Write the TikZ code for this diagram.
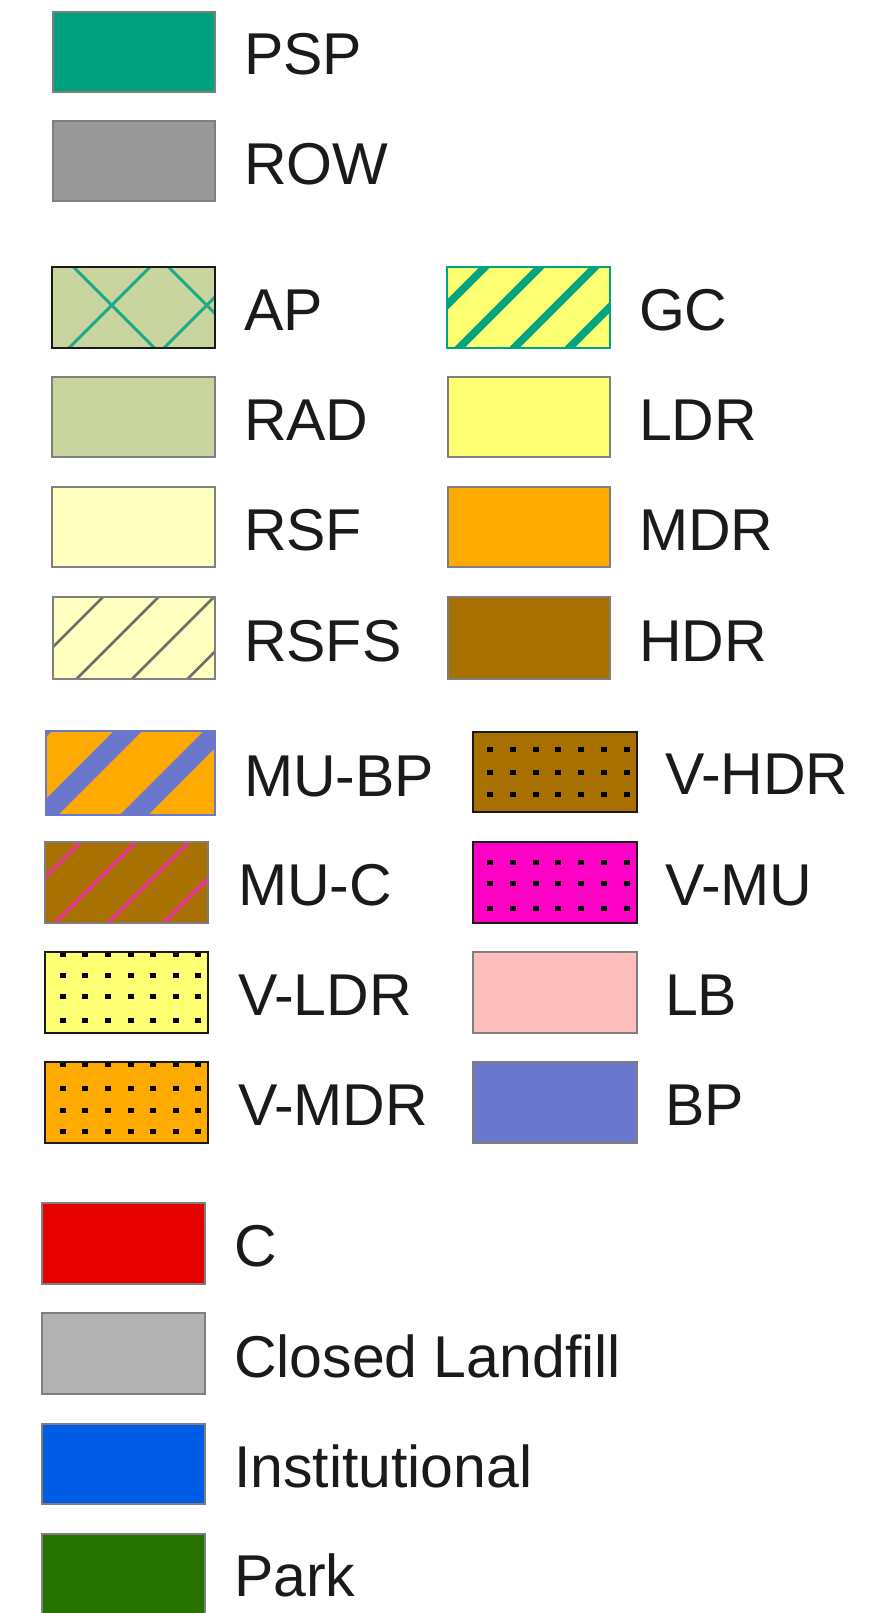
\documentclass[tikz,border=0pt]{standalone}
\usepackage{fontspec}
\setmainfont{Liberation Sans}
\definecolor{pspcol}{HTML}{00A17E}
\definecolor{rowcol}{HTML}{999999}
\definecolor{radcol}{HTML}{C9D59F}
\definecolor{aphatch}{HTML}{1EAA87}
\definecolor{rsfcol}{HTML}{FFFFBF}
\definecolor{hatchgray}{HTML}{6E6E6E}
\definecolor{ldrcol}{HTML}{FFFF73}
\definecolor{gccol}{HTML}{00A57F}
\definecolor{mdrcol}{HTML}{FFAA00}
\definecolor{hdrcol}{HTML}{A87000}
\definecolor{bpcol}{HTML}{6B77CC}
\definecolor{mucpink}{HTML}{E8359A}
\definecolor{vmucol}{HTML}{FF00C5}
\definecolor{lbcol}{HTML}{FFBEBE}
\definecolor{ccol}{HTML}{E60000}
\definecolor{landcol}{HTML}{B2B2B2}
\definecolor{instcol}{HTML}{005CE6}
\definecolor{parkcol}{HTML}{267300}
\definecolor{bordergray}{HTML}{7F7F7F}
\definecolor{borderdark}{HTML}{1A1A1A}
\definecolor{labcol}{HTML}{1A1A1A}
\tikzset{
  swatchbox/.style={draw=bordergray,line width=2pt,inner sep=0pt,outer sep=0pt,rectangle},
  darkedge/.style={draw=borderdark},
  lab/.style={anchor=base west,inner sep=0pt,outer sep=0pt,text=labcol,font=\fontsize{59}{70}\selectfont}
}
\newcommand\swatch[6]{\node[swatchbox,minimum width={#4pt-#2pt},minimum height={#5pt-#3pt},#6] (#1) at ({(#2+#4)/2},{(#3+#5)/2}) {};}
\newcommand\patterned[3]{\begin{scope}\clip (#1.south west) rectangle (#1.north east); #2 \end{scope}\draw[line width=2pt,#3] (#1.south west) rectangle (#1.north east);}
\newcommand\uplines[4]{\foreach \cc in {#1}{\draw[#4] ({\cc-#2+20},{#2-20}) -- ({\cc-#3-20},{#3+20});}}
\newcommand\downlines[4]{\foreach \cc in {#1}{\draw[#4] ({\cc+#2-20},{#2-20}) -- ({\cc+#3+20},{#3+20});}}
\newcommand\dotgrid[2]{\foreach \xx in {#1}{\foreach \yy in {#2}{\fill[black] ({\xx-3},{\yy-2.5}) rectangle ({\xx+3},{\yy+2.5});}}}
\begin{document}
\begin{tikzpicture}[x=1pt,y=-1pt]
\useasboundingbox (0,0) rectangle (886,1613);
\begin{scope}
\clip (0,0) rectangle (886,1613);
% group 1
\swatch{psp}{52.5}{12}{215}{92}{fill=pspcol}
\node[lab] (psp-l) at (244,75) {PSP};
\swatch{row}{52.5}{121.5}{215}{201.5}{fill=rowcol}
\node[lab] (row-l) at (244,184.5) {ROW};
% group 2
\swatch{ap}{52}{266.7}{215}{347.7}{fill=radcol,darkedge}
\patterned{ap}{\downlines{-193.4,-98.4}{266.7}{347.7}{aphatch,line width=3pt}\uplines{417,512}{266.7}{347.7}{aphatch,line width=3pt}}{borderdark}
\node[lab] (ap-l) at (244,330) {AP};
\swatch{rad}{52}{376.6}{215}{456.9}{fill=radcol}
\node[lab] (rad-l) at (244,440) {RAD};
\swatch{rsf}{52}{486.7}{215}{567}{fill=rsfcol}
\node[lab] (rsf-l) at (244,550) {RSF};
\swatch{rsfs}{52.7}{596.7}{215}{679.3}{fill=rsfcol}
\patterned{rsfs}{\uplines{700,755.5,811,866.5}{596.7}{679.3}{hatchgray,line width=2.5pt}}{bordergray}
\node[lab] (rsfs-l) at (244,661) {RSFS};
\swatch{gc}{446.7}{266.7}{610}{347.7}{fill=ldrcol,draw=gccol}
\patterned{gc}{\uplines{697,752,807,862,917,972}{266.7}{347.7}{gccol,line width=7.5pt}}{gccol}
\node[lab] (gc-l) at (639,330) {GC};
\swatch{ldr}{447.5}{376.6}{609.5}{456.9}{fill=ldrcol}
\node[lab] (ldr-l) at (639,440) {LDR};
\swatch{mdr}{447.5}{486.7}{609.5}{567}{fill=mdrcol}
\node[lab] (mdr-l) at (639,550) {MDR};
\swatch{hdr}{447.5}{596.7}{609.5}{679.3}{fill=hdrcol}
\node[lab] (hdr-l) at (639,661) {HDR};
% group 3
\swatch{mubp}{45.7}{731}{215}{815}{fill=mdrcol,draw=bpcol}
\patterned{mubp}{\uplines{769,859,949}{731}{815}{bpcol,line width=20pt}}{bpcol}
\node[lab] (mubp-l) at (244,796) {MU-BP};
\swatch{muc}{45}{841.7}{208.3}{923.3}{fill=hdrcol}
\patterned{muc}{\uplines{922.5,978,1031,1086.7}{841.7}{923.3}{mucpink,line width=3.5pt}}{bordergray}
\node[lab] (muc-l) at (238,905.5) {MU-C};
\swatch{vldr}{45}{951.7}{208.3}{1033}{fill=ldrcol,darkedge}
\patterned{vldr}{\dotgrid{62.7,85.3,107.9,130.5,153.1,175.7,198.3}{954,975,996.7,1020}}{borderdark}
\node[lab] (vldr-l) at (238,1015) {V-LDR};
\swatch{vmdr}{45}{1061.7}{208.3}{1143}{fill=mdrcol,darkedge}
\patterned{vmdr}{\dotgrid{62.7,85.3,107.9,130.5,153.1,175.7,198.3}{1064,1088.3,1110,1131}}{borderdark}
\node[lab] (vmdr-l) at (238,1125) {V-MDR};
\swatch{vhdr}{473.3}{731.7}{636.7}{811.7}{fill=hdrcol,darkedge}
\patterned{vhdr}{\dotgrid{490,512.8,535.6,558.4,581.2,604,626.8}{749.3,772.7,794}}{borderdark}
\node[lab] (vhdr-l) at (665,794.7) {V-HDR};
\swatch{vmu}{473.3}{841.7}{636.7}{922.7}{fill=vmucol,darkedge}
\patterned{vmu}{\dotgrid{490,512.8,535.6,558.4,581.2,604,626.8}{862.3,883.3,908.3}}{borderdark}
\node[lab] (vmu-l) at (665,905) {V-MU};
\swatch{lb}{473.3}{951.7}{636.7}{1033}{fill=lbcol}
\node[lab] (lb-l) at (665,1015) {LB};
\swatch{bp}{473.3}{1061.7}{636.7}{1143}{fill=bpcol}
\node[lab] (bp-l) at (665,1125) {BP};
% group 4
\swatch{c}{41.5}{1203}{205}{1284}{fill=ccol}
\node[lab] (c-l) at (234,1266.5) {C};
\swatch{land}{41.5}{1313}{205}{1394}{fill=landcol}
\node[lab] (land-l) at (234,1377) {Closed Landfill};
\swatch{inst}{41.5}{1424}{205}{1504}{fill=instcol}
\node[lab] (inst-l) at (234,1487) {Institutional};
\swatch{park}{41.5}{1534}{205}{1625}{fill=parkcol}
\node[lab] (park-l) at (234,1596.5) {Park};
\end{scope}
\end{tikzpicture}
\end{document}
